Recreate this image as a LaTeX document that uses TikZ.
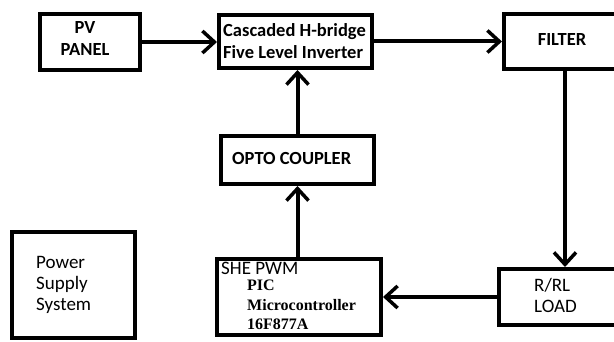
\documentclass[tikz,border=0pt]{standalone}
\usepackage{fontspec}
\setmainfont{Carlito}
\newfontfamily\picserif{Liberation Serif}
\usetikzlibrary{arrows.meta}

\tikzset{
  blk/.style={draw, line width=4pt, inner sep=0pt},
  arr/.style={line width=4pt, -{Straight Barb[length=12pt, width=22pt, line width=3.5pt]}},
  lbl/.style={inner sep=0pt, align=left, anchor=west, font=\fontsize{19}{21}\selectfont},
  blbl/.style={lbl, font=\fontsize{18.5}{22}\selectfont\bfseries},
}

\begin{document}
\begin{tikzpicture}[x=1pt, y=-1pt]
    \useasboundingbox (0,0) rectangle (614,342);
    \clip (0,0) rectangle (614,342);
    % Blocks
    \node[blk, minimum width=100pt, minimum height=56pt] (pv) at (90,42) {};
    \node[blk, minimum width=153pt, minimum height=53pt] (casc) at (295.5,41.5) {};
    \node[blk, minimum width=116pt, minimum height=55pt] (filter) at (562,41.5) {};
    \node[blk, minimum width=153pt, minimum height=48pt] (opto) at (297.5,160) {};
    \node[blk, minimum width=164pt, minimum height=76pt] (she) at (299,297) {};
    \node[blk, minimum width=126pt, minimum height=56pt] (load) at (562,297) {};
    \node[blk, minimum width=123pt, minimum height=106pt] (power) at (73.5,285) {};

    % Texts
    \node[blbl, anchor=center, align=center] (pvtxt) at (85,39) {PV\\PANEL};
    \node[blbl] (casctxt) at (223,41) {Cascaded H-bridge\\Five Level Inverter};
    \node[blbl, anchor=center] (filtertxt) at (562,40) {FILTER};
    \node[blbl] (optotxt) at (232,159) {OPTO COUPLER};
    \node[lbl] (powertxt) at (36,285) {Power\\Supply\\System};
    \node[lbl] (shetxt) at (221,268) {SHE PWM};
    \node[lbl, font=\fontsize{16}{19.5}\selectfont\picserif\bfseries] (pictxt) at (247,305) {PIC\\Microcontroller\\16F877A};
    \node[lbl] (loadtxt) at (534,295) {R/RL\\LOAD};

    % Connectors
    \draw[arr] (pv.east) -- (pv.east -| casc.west);
    \draw[arr] (casc.east) -- (casc.east -| filter.west);
    \draw[arr] (filter.south -| 565,0) -- (load.north -| 565,0);
    \draw[arr] (load.west) -- (she.east);
    \draw[arr] (she.north -| opto.south) -- (opto.south);
    \draw[arr] (opto.north) -- (opto.north |- casc.south);
\end{tikzpicture}
\end{document}
